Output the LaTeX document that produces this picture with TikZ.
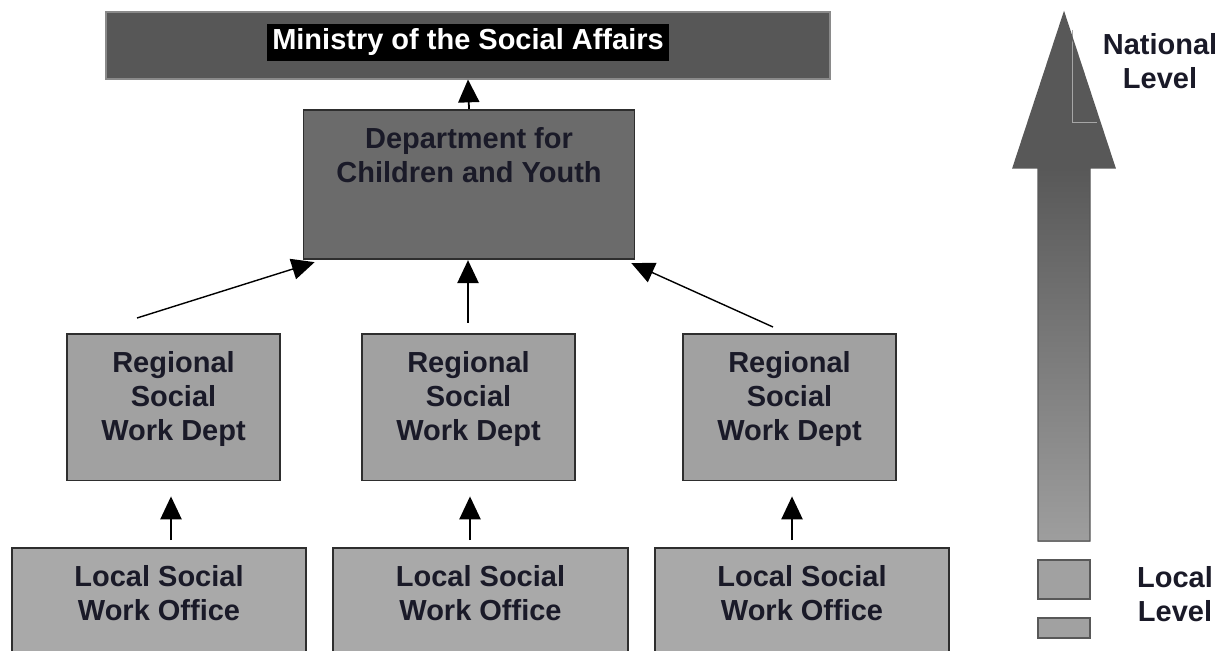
\documentclass[tikz,border=0pt]{standalone}
\usepackage{fontspec}
\setmainfont{Liberation Sans}
\usetikzlibrary{arrows.meta}
\usepackage{xcolor}

\definecolor{minfill}{HTML}{575757}
\definecolor{minline}{HTML}{8A8A8A}
\definecolor{deptfill}{HTML}{6B6B6B}
\definecolor{regfill}{HTML}{A1A1A1}
\definecolor{locfill}{HTML}{A9A9A9}
\definecolor{boxline}{HTML}{2E2E2E}
\definecolor{boxtext}{HTML}{1A1A28}
\definecolor{arrowtop}{HTML}{585858}
\definecolor{arrowbot}{HTML}{9E9E9E}

\newcommand\px{0.02cm}

\begin{document}
\begin{tikzpicture}[x=0.02cm,y=-0.02cm,>={Triangle[length=13pt,width=12pt]},
  box/.style={draw=boxline, line width=1pt, anchor=north, align=center,
    font=\bfseries\fontsize{16.5}{19.5}\selectfont, text=boxtext,
    inner xsep=0pt, inner ysep=10pt},
  conn/.style={->, line width=1pt, black},
  lvl/.style={align=center, text=boxtext, font=\bfseries\fontsize{16.5}{19.5}\selectfont}]

\clip[use as bounding box] (0,0) rectangle (1222,651);

%Ministerium
\node[draw=minline, line width=0.6pt, fill=minfill, minimum width=724*\px, minimum height=67*\px,
  text depth=9.7pt, font=\bfseries\fontsize{16.5}{19.5}\selectfont] (ministry) at (468,45.5)
  {\fboxsep=2.8pt\colorbox{black}{\color{white}Ministry of the Social Affairs}};

%Abteilung
\node[box, fill=deptfill, minimum width=331*\px, text depth=59*\px] (dept) at (469,109)
  {Department for\\Children and Youth};

%Regionen
\node[box, fill=regfill, minimum width=213*\px, text depth=22*\px] (rsw1) at (173.5,333)
  {Regional\\Social\\Work Dept};
\node[box, fill=regfill, minimum width=213*\px, text depth=22*\px] (rsw2) at (468.5,333)
  {Regional\\Social\\Work Dept};
\node[box, fill=regfill, minimum width=213*\px, text depth=22*\px] (rsw3) at (789.5,333)
  {Regional\\Social\\Work Dept};

%Lokale Stellen
\node[box, fill=locfill, minimum width=294*\px, text depth=100*\px] (lso1) at (159,547)
  {Local Social\\Work Office};
\node[box, fill=locfill, minimum width=295*\px, text depth=100*\px] (lso2) at (480.5,547)
  {Local Social\\Work Office};
\node[box, fill=locfill, minimum width=294*\px, text depth=100*\px] (lso3) at (802,547)
  {Local Social\\Work Office};

%Pfeile
\draw[conn] (dept.north) -- (ministry.south);

\coordinate (r1) at (137,318);
\coordinate (r2) at (468,323);
\coordinate (r3) at (773,327);
\draw[conn, line width=0.8pt] (r1) -- ([xshift=12*\px,yshift=-2*\px]dept.south west);
\draw[conn] (r2) -- (r2 |- dept.south);
\draw[conn, line width=0.8pt] (r3) -- ([xshift=-4*\px,yshift=-3*\px]dept.south east);

\draw[conn, shorten <=7*\px, shorten >=15*\px] ([xshift=12*\px]lso1.north) -- ([xshift=12*\px]lso1.north |- rsw1.south);
\draw[conn, shorten <=7*\px, shorten >=15*\px] ([xshift=-10.5*\px]lso2.north) -- ([xshift=-10.5*\px]lso2.north |- rsw2.south);
\draw[conn, shorten <=7*\px, shorten >=15*\px] ([xshift=-10*\px]lso3.north) -- ([xshift=-10*\px]lso3.north |- rsw3.south);

%Ebenen-Pfeil
\shade[top color=arrowtop, bottom color=arrowbot] (1038,168) rectangle (1090,541);
\fill[arrowtop] (1064,13) -- (1115,168) -- (1013,168) -- cycle;
\draw[gray!70, very thin] (1072,30) -- (1072,122) -- (1097,122);
\draw[boxline!80, line width=0.8pt, line join=miter]
  (1064,13) -- (1115,168) -- (1090,168) -- (1090,541) -- (1038,541) -- (1038,168) -- (1013,168) -- cycle;

\draw[boxline!80, line width=0.8pt, fill=regfill] (1038,560) rectangle (1090,599);
\draw[boxline!80, line width=0.8pt, fill=regfill] (1038,618) rectangle (1090,638);

\node[lvl] (national) at (1160,61) {National\\Level};
\node[lvl] (local) at (1175,594) {Local\\Level};

\end{tikzpicture}
\end{document}
